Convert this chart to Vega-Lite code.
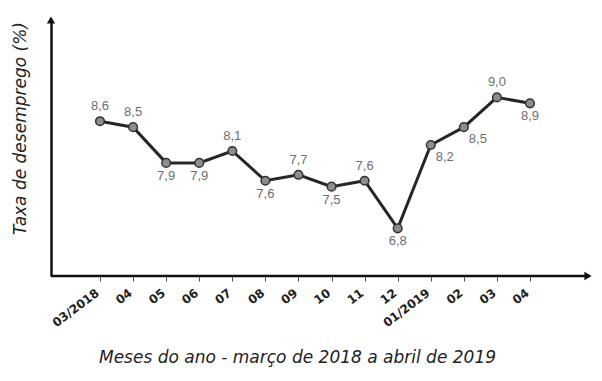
{
  "$schema": "https://vega.github.io/schema/vega-lite/v6.json",
  "width": 537,
  "height": 256,
  "autosize": "none",
  "padding": {"left": 51, "top": 20, "right": 14, "bottom": 105},
  "background": "white",
  "config": {
    "view": {"stroke": null},
    "locale": {"number": {"decimal": ",", "thousands": ".", "grouping": [3], "currency": ["R$", ""]}}
  },
  "data": {
    "values": [
      {"mes": "03/2018", "taxa": 8.6},
      {"mes": "04/2018", "taxa": 8.5},
      {"mes": "05/2018", "taxa": 7.9},
      {"mes": "06/2018", "taxa": 7.9},
      {"mes": "07/2018", "taxa": 8.1},
      {"mes": "08/2018", "taxa": 7.6},
      {"mes": "09/2018", "taxa": 7.7},
      {"mes": "10/2018", "taxa": 7.5},
      {"mes": "11/2018", "taxa": 7.6},
      {"mes": "12/2018", "taxa": 6.8},
      {"mes": "01/2019", "taxa": 8.2},
      {"mes": "02/2019", "taxa": 8.5},
      {"mes": "03/2019", "taxa": 9.0},
      {"mes": "04/2019", "taxa": 8.9}
    ]
  },
  "encoding": {
    "x": {
      "field": "mes", "type": "ordinal", "sort": null,
      "scale": {"type": "point", "padding": 0, "range": [49, 479]},
      "axis": {
        "title": "Meses do ano - março de 2018 a abril de 2019",
        "titleFont": "DejaVu Sans", "titleFontStyle": "italic", "titleFontWeight": "normal",
        "titleFontSize": 17, "titleColor": "#222", "titlePadding": 21, "titleX": 246,
        "labelExpr": "datum.value == '03/2018' || datum.value == '01/2019' ? datum.value : slice(datum.value, 0, 2)",
        "labelAngle": -37, "labelAlign": "right", "labelBaseline": "top",
        "labelFont": "DejaVu Sans", "labelFontWeight": "bold", "labelFontSize": 12, "labelColor": "#222",
        "labelPadding": 6, "labelOffset": -6,
        "domain": false,
        "tickColor": "#555", "tickSize": 5, "tickWidth": 1
      }
    },
    "y": {
      "field": "taxa", "type": "quantitative",
      "scale": {"domain": [6, 10.3], "nice": false, "zero": false},
      "axis": {
        "title": "Taxa de desemprego (%)",
        "titleFont": "DejaVu Sans", "titleFontStyle": "italic", "titleFontWeight": "normal",
        "titleFontSize": 17, "titleColor": "#222", "titlePadding": 22, "titleY": 108,
        "labels": false, "ticks": false, "grid": false,
        "domainColor": "#111", "domainWidth": 2.5
      }
    }
  },
  "layer": [
    {
      "data": {"values": [{"eixo": "x"}]},
      "mark": {"type": "rule", "color": "#111", "strokeWidth": 2.5},
      "encoding": {"x": {"value": 0}, "x2": {"value": "width"}, "y": {"value": "height"}}
    },
    {"mark": {"type": "line", "color": "#262626", "strokeWidth": 3}},
    {"mark": {"type": "point", "filled": true, "fill": "#8c8c8c", "stroke": "#333", "strokeWidth": 1.5, "size": 75, "opacity": 1}},
    {
      "transform": [{"filter": {"field": "mes", "oneOf": ["03/2018", "04/2018", "07/2018", "09/2018", "11/2018", "03/2019"]}}],
      "mark": {"type": "text", "dy": -15, "font": "Liberation Sans", "fontSize": 13, "color": "#6e6e6e"},
      "encoding": {"text": {"field": "taxa", "type": "quantitative", "format": ".1f"}}
    },
    {
      "transform": [{"filter": {"field": "mes", "oneOf": ["05/2018", "06/2018", "08/2018", "10/2018", "12/2018", "04/2019"]}}],
      "mark": {"type": "text", "dy": 13, "font": "Liberation Sans", "fontSize": 13, "color": "#6e6e6e"},
      "encoding": {"text": {"field": "taxa", "type": "quantitative", "format": ".1f"}}
    },
    {
      "transform": [{"filter": {"field": "mes", "oneOf": ["01/2019", "02/2019"]}}],
      "mark": {"type": "text", "dx": 14, "dy": 12, "font": "Liberation Sans", "fontSize": 13, "color": "#6e6e6e"},
      "encoding": {"text": {"field": "taxa", "type": "quantitative", "format": ".1f"}}
    },
    {
      "data": {"values": [{"seta": "y"}]},
      "mark": {"type": "point", "shape": "triangle-up", "filled": true, "color": "#111", "size": 70, "opacity": 1},
      "encoding": {"x": {"value": 0}, "y": {"value": 0}}
    },
    {
      "data": {"values": [{"seta": "x"}]},
      "mark": {"type": "point", "shape": "triangle-right", "filled": true, "color": "#111", "size": 70, "opacity": 1},
      "encoding": {"x": {"value": "width"}, "y": {"value": "height"}}
    }
  ]
}
